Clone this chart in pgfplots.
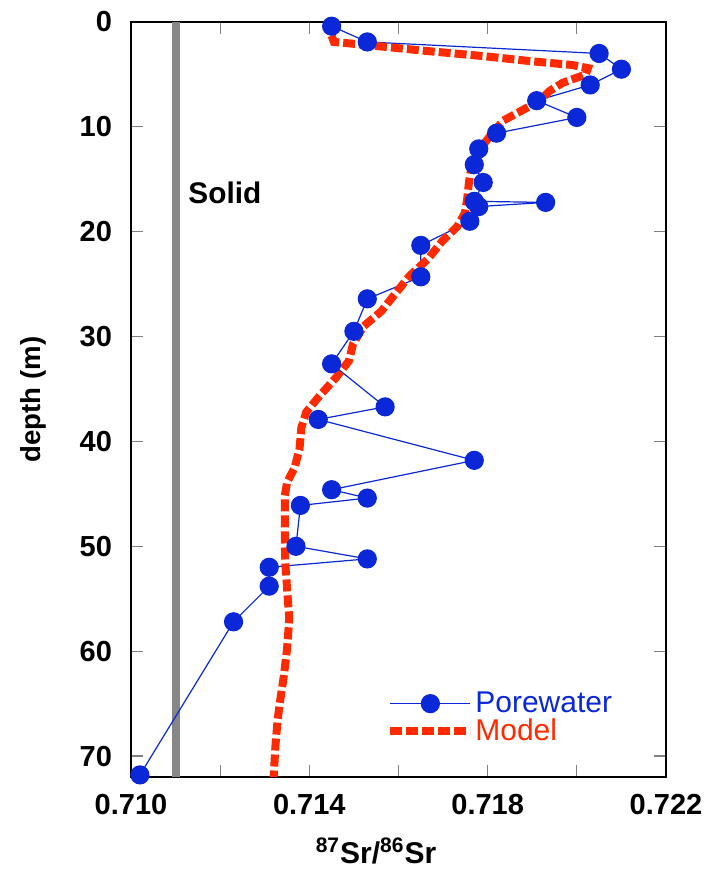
\documentclass[border=0pt]{standalone}
\usepackage{fontspec}
\setmainfont{Liberation Sans}
\usepackage{pgfplots}
\pgfplotsset{compat=1.18}

\definecolor{pwblue}{RGB}{10,40,216}
\definecolor{mdred}{RGB}{255,42,0}
\definecolor{solidgray}{RGB}{134,134,134}

\begin{document}
\begin{tikzpicture}
% page size: 706x871 px at 0.5pt per px, frame lower-left at origin
\path[use as bounding box] (-65.5pt,-47pt) rectangle (287.5pt,388.5pt);
\begin{axis}[
  scale only axis,
  width=267.5pt, height=377.5pt,
  xmin=0.710, xmax=0.722,
  ymin=0, ymax=72,
  y dir=reverse,
  clip=false,
  axis line style={black, line width=0.9pt},
  tick style={gray, line width=0.6pt},
  tick align=inside,
  major tick length=6pt,
  xtick={0.710,0.712,0.714,0.716,0.718,0.720,0.722},
  xticklabels={0.710,,0.714,,0.718,,0.722},
  ytick={0,10,20,30,40,50,60,70},
  /pgf/number format/assume math mode=true,
  tick label style={font=\fontsize{14.5}{17}\selectfont\bfseries},
  xticklabel style={yshift=-5pt},
  yticklabel style={xshift=-6pt},
  xlabel={\textsuperscript{87}Sr/\textsuperscript{86}Sr},
  ylabel={depth (m)},
  xlabel style={at={(rel axis cs:0.458,-0.098)}, anchor=center,
    font=\fontsize{15}{17}\selectfont\bfseries},
  ylabel style={at={(rel axis cs:-0.183,0.5)}, anchor=center,
    font=\fontsize{13.8}{16}\selectfont\bfseries},
  legend style={at={(rel axis cs:0.4766,0.0788)}, anchor=west,
    draw=none, fill=none, inner sep=0pt, row sep=0.5pt,
    font=\fontsize{15}{17}\selectfont,
    nodes={inner sep=0.5pt}},
  legend cell align=left,
  legend image code/.code={%
    \draw[mark repeat=2,mark phase=2,#1] plot coordinates {(0pt,0pt) (20pt,0pt) (40pt,0pt)};},
]
% solid phase value
\addplot[solidgray, line width=4pt, forget plot] coordinates {(0.7110,0) (0.7110,72)};

% porewater measurements
\addplot[pwblue, line width=0.6pt, mark=*, mark size=4.5pt, mark options={solid, fill=pwblue, draw=pwblue}]
coordinates {
(0.7145,0.4) (0.7153,1.9) (0.7205,3.0) (0.7210,4.5) (0.7203,6.0)
(0.7191,7.5) (0.7200,9.1) (0.7182,10.6) (0.7178,12.1) (0.7177,13.6)
(0.7179,15.3) (0.7177,17.1) (0.7193,17.2) (0.7178,17.6) (0.7176,19.0)
(0.7165,21.3) (0.7165,24.3) (0.7153,26.4) (0.7150,29.5) (0.7145,32.6)
(0.7157,36.7) (0.7142,37.9) (0.7177,41.8) (0.7145,44.6) (0.7153,45.4)
(0.7138,46.1) (0.7137,50.0) (0.7153,51.2) (0.7131,52.0) (0.7131,53.8)
(0.7123,57.2) (0.7102,71.8)
};
\addlegendentry{\textcolor{pwblue}{Porewater}}

% model profile
\addplot[mdred, line width=4pt, dash pattern=on 6pt off 2pt]
coordinates {
(0.71450,1.3) (0.71455,1.9) (0.71530,2.2) (0.71660,2.75) (0.71790,3.25)
(0.71900,3.75) (0.71990,4.1) (0.72025,4.4) (0.72020,5.0) (0.71968,5.8)
(0.71938,6.6) (0.71917,7.5) (0.71874,8.5) (0.71835,9.4) (0.71805,10.9)
(0.71779,12.3) (0.71764,13.7) (0.71758,15.3) (0.71754,16.9) (0.71749,18.2)
(0.71732,19.5) (0.71698,20.9) (0.71666,22.6) (0.71625,24.2) (0.71591,26.0)
(0.71561,27.6) (0.71522,29.0) (0.71498,30.7) (0.71489,32.3) (0.71460,33.9)
(0.71423,35.65) (0.71393,37.2) (0.71382,38.7) (0.71378,40.7) (0.71367,42.5)
(0.71350,43.9) (0.71345,45.2) (0.71345,47.4) (0.71345,49.6) (0.71346,51.5)
(0.71350,54.0) (0.71355,56.9) (0.71350,59.8) (0.71343,62.3) (0.71335,64.6)
(0.71329,66.5) (0.71324,69.0) (0.71320,72.0)
};
\addlegendentry{\textcolor{mdred}{Model}}

\node[anchor=west, inner sep=0pt, font=\fontsize{14.9}{17}\selectfont\bfseries]
  at (axis cs:0.71128,16.3) {Solid};
\end{axis}
\end{tikzpicture}
\end{document}
